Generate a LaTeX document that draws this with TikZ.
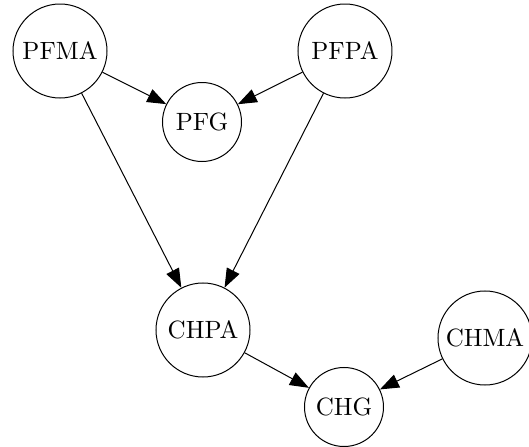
\documentclass[tikz,border=0pt]{standalone}
\usetikzlibrary{arrows.meta}
\begin{document}
\begin{tikzpicture}[x=0.4pt,y=-0.4pt,
    var/.style={draw,circle,inner sep=0pt,minimum size=37.6pt},
    small/.style={draw,circle,inner sep=0pt,minimum size=31.6pt},
    >={Triangle[length=7.6pt,width=5.6pt]}]
      \useasboundingbox (0,0) rectangle (529,447);
      \node[var] (pfma) at (60,51) {PFMA};
      \node[var] (pfpa) at (345,51) {PFPA};
      \node[small] (pfg) at (202,122) {PFG};
      \node[var] (chpa) at (203,330) {CHPA};
      \node[var] (chma) at (485,338) {CHMA};
      \node[small] (chg) at (344,407) {CHG};
      \draw [->] (pfma) -- (pfg);
      \draw [->] (pfpa) -- (pfg);
      \draw [->] (pfma) -- (chpa);
      \draw [->] (pfpa) -- (chpa);
      \draw [->] (chpa) -- (chg);
      \draw [->] (chma) -- (chg);
    \end{tikzpicture}
\end{document}
